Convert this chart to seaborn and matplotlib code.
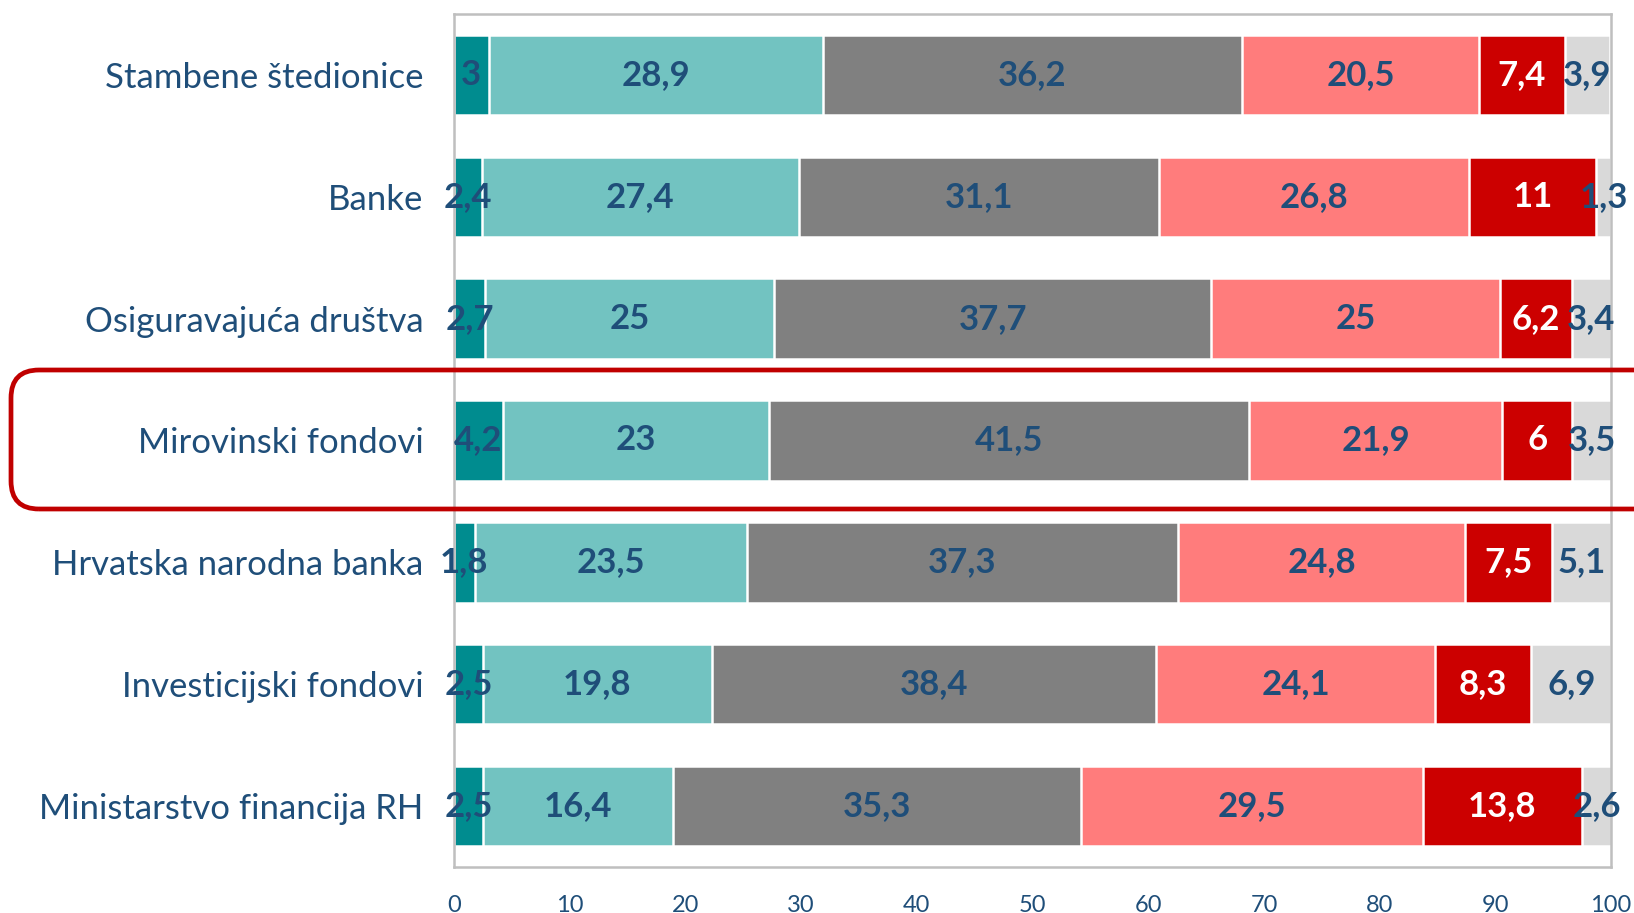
import matplotlib
matplotlib.use("Agg")
import matplotlib.pyplot as plt
import seaborn as sns
import numpy as np
import pandas as pd
from matplotlib.patches import FancyBboxPatch
from matplotlib.transforms import IdentityTransform

categories = ["Stambene štedionice", "Banke", "Osiguravajuća društva", "Mirovinski fondovi",
              "Hrvatska narodna banka", "Investicijski fondovi", "Ministarstvo financija RH"]
s1 = [3, 2.4, 2.7, 4.2, 1.8, 2.5, 2.5]
s2 = [28.9, 27.4, 25, 23, 23.5, 19.8, 16.4]
s3 = [36.2, 31.1, 37.7, 41.5, 37.3, 38.4, 35.3]
s4 = [20.5, 26.8, 25, 21.9, 24.8, 24.1, 29.5]
s5 = [7.4, 11, 6.2, 6, 7.5, 8.3, 13.8]
s6 = [3.9, 1.3, 3.4, 3.5, 5.1, 6.9, 2.6]
xticks = [0, 10, 20, 30, 40, 50, 60, 70, 80, 90, 100]

series = [s1, s2, s3, s4, s5, s6]
colors = ["#008C8F", "#72C3C1", "#808080", "#FF7C7C", "#CC0000", "#D9D9D9"]
label_colors = ["#1F4E79", "#1F4E79", "#1F4E79", "#1F4E79", "#FFFFFF", "#1F4E79"]
txt_blue = "#1F4E79"

sns.set_theme(style="white")
plt.rcParams['font.family'] = ['Lato', 'DejaVu Sans']

fig = plt.figure(figsize=(16.34, 9.13), dpi=100)
ax = fig.add_axes([0.2778, 0.0504, 0.986 - 0.2778, 0.9847 - 0.0504])

vals = np.array(series, dtype=float)
cum = np.cumsum(vals, axis=0)

for i in reversed(range(len(series))):
    df = pd.DataFrame({"cat": categories, "val": cum[i]})
    sns.barplot(data=df, x="val", y="cat", orient="h", color=colors[i], ax=ax,
                width=0.66, edgecolor="white", linewidth=1.8, saturation=1)

for i in range(len(series)):
    for j in range(len(categories)):
        v = vals[i, j]
        xc = cum[i, j] - v / 2
        lab = f"{v:g}".replace(".", ",")
        ax.text(xc, j, lab, ha="center", va="center", fontsize=25, fontweight="bold",
                color=label_colors[i])

ax.set_xlim(0, 100)
ax.set_ylim(6.5, -0.5)
ax.set_xticks(xticks)
ax.set_xticklabels([str(t) for t in xticks], fontsize=17, color=txt_blue)
ax.set_xlabel("")
ax.set_ylabel("")
ax.tick_params(axis="y", length=0, pad=22, labelsize=25, labelcolor=txt_blue)
ax.tick_params(axis="x", length=0, pad=20)
for sp in ax.spines.values():
    sp.set_color("#BFBFBF")
    sp.set_linewidth(1.8)

box = FancyBboxPatch((11, 404), 1700, 139, boxstyle="round,pad=0,rounding_size=28",
                     transform=IdentityTransform(), fill=False, edgecolor="#C00000",
                     linewidth=3.4, clip_on=False)
fig.patches.append(box)

fig.savefig("out.png", dpi=100)
